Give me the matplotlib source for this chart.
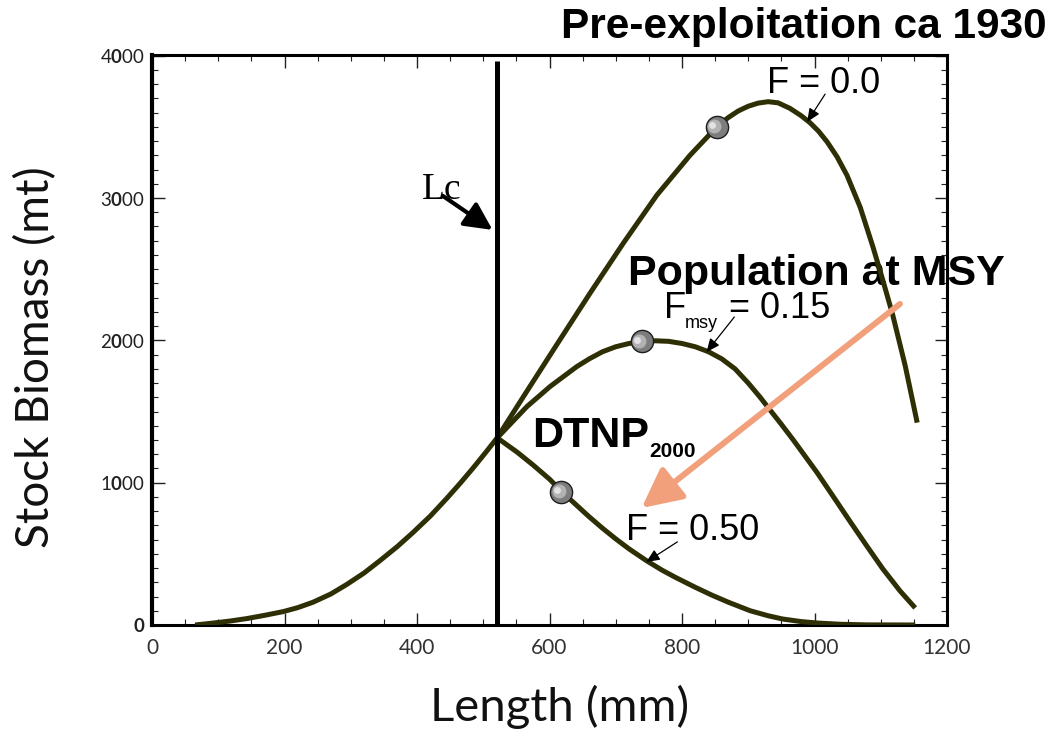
import matplotlib
matplotlib.use("Agg")
import matplotlib.pyplot as plt
from matplotlib.ticker import MultipleLocator
import matplotlib.transforms as mtransforms

# ---------------- data ----------------
# shared part of the curve before the size at first capture (Lc)
pre_length = [65, 93, 118, 143, 170, 198, 220, 243, 270, 294, 320, 344, 370, 394,
              420, 445, 465, 485, 505, 521]
pre_biomass = [0, 14, 28, 45, 68, 94, 122, 160, 218, 285, 365, 452, 550, 650,
               765, 890, 995, 1105, 1220, 1315]

# F = 0.0 (pre-exploitation)
f00_length = [521, 560, 611, 661, 711, 762, 812, 854, 870, 885, 900, 915, 930,
              945, 963, 980, 993, 1006, 1019, 1034, 1049, 1069, 1088, 1103, 1118,
              1137, 1155]
f00_biomass = [1315, 1600, 1970, 2330, 2680, 3020, 3300, 3507, 3566, 3612, 3645,
               3667, 3677, 3669, 3630, 3578, 3530, 3470, 3395, 3290, 3160, 2935,
               2660, 2425, 2180, 1820, 1422]

# F = 0.15 (Fmsy)
f015_length = [521, 566, 601, 641, 660, 680, 700, 720, 740, 760, 780, 800, 820,
               840, 860, 880, 900, 918, 933, 950, 968, 986, 1004, 1028, 1054, 1079,
               1103, 1129, 1152]
f015_biomass = [1315, 1535, 1676, 1815, 1870, 1920, 1955, 1978, 1992, 1997, 1993,
                1978, 1955, 1920, 1870, 1800, 1700, 1600, 1510, 1410, 1300, 1185,
                1070, 905, 725, 555, 395, 240, 120]

# F = 0.50
f050_length = [521, 551, 575, 600, 619, 640, 660, 680, 700, 720, 747, 770, 790,
               820, 845, 870, 903, 930, 952, 980, 1004, 1040, 1079, 1152]
f050_biomass = [1315, 1215, 1125, 1025, 935, 845, 760, 680, 605, 535, 450, 385,
                335, 265, 210, 160, 100, 65, 42, 24, 14, 5, 1, 0]

# marker dots on each curve
marker_length = [853, 739, 618]
marker_biomass = [3500, 1992, 938]

lc_length = 521
x_ticks = [0, 200, 400, 600, 800, 1000, 1200]
y_ticks = [0, 1000, 2000, 3000, 4000]
y_tick_labels = [r"$\mathbf{0}$", r"1$\mathbf{0}$00", r"2$\mathbf{0}$00",
                 r"3$\mathbf{0}$00", r"4$\mathbf{0}$00"]

# ---------------- styling ----------------
plt.rcParams['font.family'] = ['Lato', 'DejaVu Sans']
plt.rcParams['mathtext.fontset'] = 'custom'
plt.rcParams['mathtext.rm'] = 'Lato'
plt.rcParams['mathtext.bf'] = 'Lato:bold'

curve_color = '#2f2f05'
orange = '#f2a07b'

fig = plt.figure(figsize=(10.6, 7.32), dpi=100)
ax = fig.add_axes([152/1060, 1-625/732, (947-152)/1060, (625-55)/732])
ax.set_xlim(0, 1200)
ax.set_ylim(0, 4005)

lw = 3.6
for xs, ys in [(pre_length, pre_biomass), (f00_length, f00_biomass),
               (f015_length, f015_biomass), (f050_length, f050_biomass)]:
    ax.plot(xs, ys, color=curve_color, lw=lw, solid_capstyle='butt',
            solid_joinstyle='round', zorder=3)

# Lc vertical line
ax.plot([lc_length, lc_length], [0, 3960], color='black', lw=3.6, zorder=4,
        solid_capstyle='butt')

# shaded spheres
ax.plot(marker_length, marker_biomass, 'o', ms=16, mfc='#7d7d7d', mec='#1e1e1e',
        mew=1.0, zorder=6)
hl = mtransforms.offset_copy(ax.transData, fig=fig, x=-2.0, y=0.5, units='points')
ax.plot(marker_length, marker_biomass, 'o', ms=10, mfc='#b8b8b8', mec='none',
        alpha=0.9, zorder=7, transform=hl)
hl2 = mtransforms.offset_copy(ax.transData, fig=fig, x=-3.5, y=1.0, units='points')
ax.plot(marker_length, marker_biomass, 'o', ms=5, mfc='#e8e8e8', mec='none',
        alpha=0.9, zorder=8, transform=hl2)

# spines and ticks
for side in ['left', 'right', 'top', 'bottom']:
    ax.spines[side].set_linewidth(2.2)
ax.spines['left'].set_linewidth(3.0)
ax.set_xticks(x_ticks)
ax.set_yticks(y_ticks)
ax.set_yticklabels(y_tick_labels)
ax.xaxis.set_minor_locator(MultipleLocator(50))
ax.yaxis.set_minor_locator(MultipleLocator(100))
ax.tick_params(which='both', direction='in', top=True, right=True, color='#222222')
ax.tick_params(which='major', length=9, width=1.0)
ax.tick_params(which='minor', length=4.5, width=0.8)
ax.tick_params(axis='x', which='major', labelsize=15, pad=9, labelcolor='#333333')
ax.tick_params(axis='y', which='major', labelsize=13.5, pad=5, labelcolor='#222222')

# axis labels
fig.text(560/1060, 1-707/732, 'Length (mm)', ha='center', va='center',
         fontsize=34, color='#111111')
fig.text(36/1060, 1-357/732, 'Stock Biomass (mt)', ha='center', va='center',
         rotation=90, fontsize=33, color='#111111')

# title
fig.text(804/1060, 1-27/732, 'Pre-exploitation ca 1930', ha='center', va='center',
         fontsize=30.5, fontweight='bold', family='Liberation Sans')

# in-plot texts
ax.text(718, 2389, 'Population at MSY', fontsize=31, fontweight='bold',
        family='Liberation Sans', ha='left', va='baseline', clip_on=False, zorder=2)
ax.text(929, 3740, 'F = 0.0', fontsize=26, family='Liberation Sans',
        ha='left', va='baseline')
ax.text(773, 2157, 'F', fontsize=26, family='Liberation Sans', ha='left', va='baseline')
ax.text(804, 2087, 'msy', fontsize=13, family='Liberation Sans', ha='left', va='baseline')
ax.text(871, 2157, '= 0.15', fontsize=26, family='Liberation Sans', ha='left', va='baseline')
ax.text(716, 597, 'F = 0.50', fontsize=26, family='Liberation Sans',
        ha='left', va='baseline')
ax.text(574, 1251, 'DTNP', fontsize=31, fontweight='bold', family='Liberation Sans',
        ha='left', va='baseline')
ax.text(751, 1180, '2000', fontsize=15, fontweight='bold', family='Liberation Sans',
        ha='left', va='baseline')
ax.text(407, 2994, 'Lc', fontsize=27, family='Liberation Serif', ha='left', va='baseline')

# arrows
ax.annotate('', xy=(514, 2776), xytext=(439, 3015),
            arrowprops=dict(arrowstyle='-|>,head_length=0.4,head_width=0.2',
                            lw=3, color='black', mutation_scale=42,
                            shrinkA=0, shrinkB=0), zorder=5)
ax.annotate('', xy=(739, 822), xytext=(1129, 2256),
            arrowprops=dict(arrowstyle='-|>,head_length=0.4,head_width=0.2',
                            lw=4.3, color=orange, mutation_scale=60,
                            shrinkA=0, shrinkB=0), zorder=5)
thin = dict(arrowstyle='-|>,head_length=0.5,head_width=0.22', lw=0.9, color='black',
            mutation_scale=16, shrinkA=0, shrinkB=0)
ax.annotate('', xy=(989, 3535), xytext=(1016, 3730), arrowprops=thin)
ax.annotate('', xy=(837, 1918), xytext=(879, 2164), arrowprops=thin)
ax.annotate('', xy=(746, 443), xytext=(793, 584), arrowprops=thin)

fig.savefig('out.png', dpi=100)
